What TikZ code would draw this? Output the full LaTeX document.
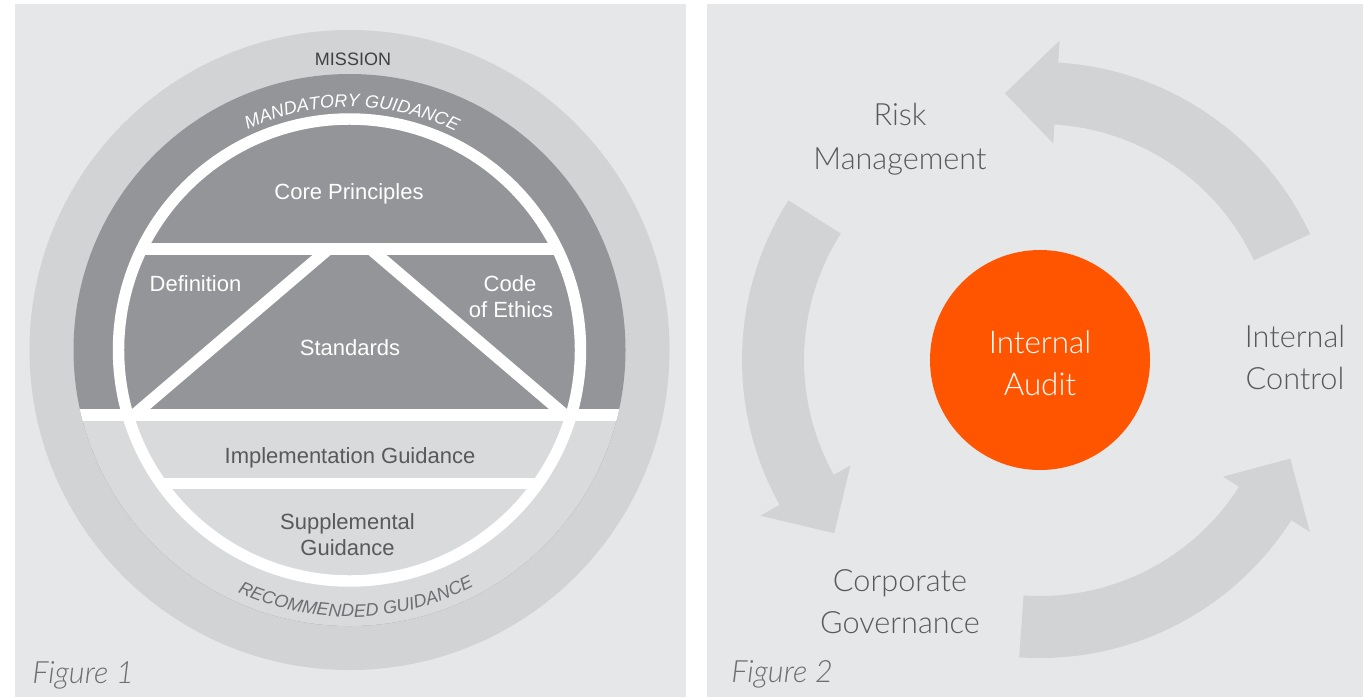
\documentclass[tikz,border=0pt]{standalone}
\usepackage{fontspec}
\setmainfont{Liberation Sans}
\IfFontExistsTF{Lato Light}{\newfontfamily\lightf{Lato Light}}{\newfontfamily\lightf{Lato}}
\usetikzlibrary{decorations.text}
\definecolor{panelbg}{HTML}{E6E7E8}
\definecolor{missiongray}{HTML}{D1D3D4}
\definecolor{darkring}{HTML}{939598}
\definecolor{lightin}{HTML}{D9DADB}
\definecolor{arrowgray}{HTML}{D1D3D4}
\definecolor{labelgray}{HTML}{58595B}
\definecolor{missiontext}{HTML}{414042}
\definecolor{softtext}{HTML}{6D6E71}
\definecolor{iaorange}{HTML}{FF5500}
\begin{document}
\begin{tikzpicture}[x=0.75pt,y=0.75pt,
  wlabel/.style={font=\fontsize{16.5}{20}\selectfont, text=white, inner sep=0pt, anchor=base},
  glabel/.style={font=\fontsize{16.5}{20}\selectfont, text=labelgray, inner sep=0pt, anchor=base},
  rlabel/.style={font=\lightf\fontsize{23}{28}\selectfont, text=labelgray, inner sep=0pt, anchor=base},
  ialabel/.style={font=\lightf\fontsize{23.5}{28}\selectfont, text=white, inner sep=0pt, anchor=base},
  figlabel/.style={font=\lightf\itshape\fontsize{23}{27}\selectfont, text=softtext, inner sep=0pt, anchor=base west},
  whiteband/.style={draw=white, line width=8.8pt}]
\useasboundingbox (0,0) rectangle (1363,-697);
\fill[white] (0,0) rectangle (1363,-697);
\fill[panelbg] (15,-4) rectangle (686,-697);
\fill[panelbg] (707,-4) rectangle (1363,-697);

% ---------- Figure 1 ----------
\begin{scope}[shift={(349.5,-350)}]
  \fill[missiongray] (0,0) circle[radius=320];
  \fill[darkring] (0,0) circle[radius=276];
  \begin{scope}
    \clip (0,0) circle[radius=276];
    \fill[lightin] (-300,-59.3) rectangle (300,-300);
    \fill[white] (-300,-59.3) rectangle (300,-70.7);
  \end{scope}
  \begin{scope}
    \clip (0,0) circle[radius=231];
    \fill[white] (-300,95) rectangle (300,107);
    \fill[white] (-300,-127.5) rectangle (300,-138.5);
    \draw[whiteband] (-21,101) -- (-215.5,-65);
    \draw[whiteband] (21,101) -- (215.5,-65);
  \end{scope}
  \draw[white, line width=8.6pt] (0,0) circle[radius=231];
  \path[decorate, decoration={text along path,
      text={|\itshape\fontsize{13.5}{16}\selectfont|MANDATORY GUIDANCE},
      text align=center, text color=white}]
    (149.4:243) arc[start angle=149.4, end angle=29.4, radius=243];
  \path[decorate, decoration={text along path,
      text={|\itshape\fontsize{13.5}{16}\selectfont|RECOMMENDED GUIDANCE},
      text align=center, text color=softtext}]
    (211.5:267) arc[start angle=211.5, end angle=331.5, radius=267];
\end{scope}

\node[font=\fontsize{13.5}{16}\selectfont, text=missiontext, inner sep=0pt, anchor=base] (mission) at (353,-65) {MISSION};
\node[wlabel] (core) at (349,-199.5) {Core Principles};
\node[wlabel] (defn) at (195.5,-291) {Definition};
\node[wlabel] (code1) at (510,-291) {Code};
\node[wlabel] (code2) at (511,-317) {of Ethics};
\node[wlabel] (stds) at (350,-355.8) {Standards};
\node[glabel] (impl) at (350,-463.4) {Implementation Guidance};
\node[glabel] (supp1) at (347.5,-529) {Supplemental};
\node[glabel] (supp2) at (347.5,-555.8) {Guidance};
\node[figlabel] (fig1) at (32,-683) {Figure 1};

% ---------- Figure 2 ----------
\begin{scope}[shift={(1040,-360)}]
  \foreach \t in {25,147.6,266} {
    \fill[arrowgray] (\t:236) arc[start angle=\t, delta angle=61.5, radius=236]
      -- (\t+61.5:217) -- (\t+72.5:269) -- (\t+61.5:320) -- (\t+61.5:298)
      arc[start angle=\t+61.5, delta angle=-61.5, radius=298] -- cycle;
  }
\end{scope}
\node[circle, fill=iaorange, minimum size=165pt, inner sep=0pt] (ia) at (1040,-360) {};
\node[ialabel] (ia1) at (1040,-353.3) {Internal};
\node[ialabel] (ia2) at (1040,-395.7) {Audit};
\node[rlabel] (risk1) at (900,-125) {Risk};
\node[rlabel] (risk2) at (900,-169) {Management};
\node[rlabel] (ic1) at (1295,-347) {Internal};
\node[rlabel] (ic2) at (1295,-389) {Control};
\node[rlabel] (cg1) at (900,-591) {Corporate};
\node[rlabel] (cg2) at (900,-633) {Governance};
\node[figlabel] (fig2) at (731,-682) {Figure 2};
\end{tikzpicture}
\end{document}
